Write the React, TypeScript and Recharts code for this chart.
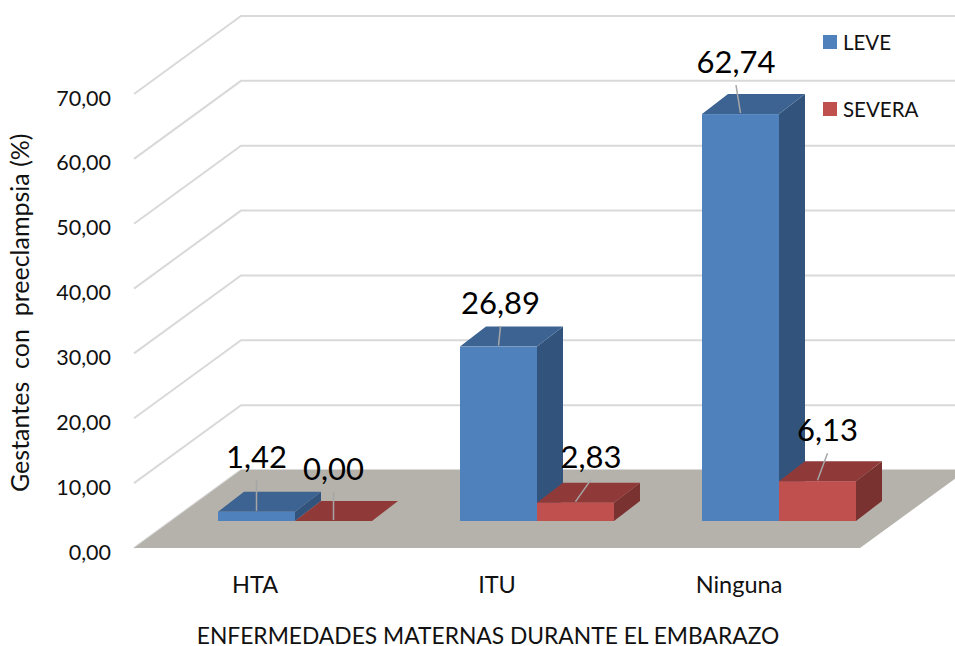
import { Bar, BarChart, CartesianGrid, LabelList, Legend, XAxis, YAxis } from "recharts"

const categories = ["HTA", "ITU", "Ninguna"]
const leveValues = [1.42, 26.89, 62.74]
const severaValues = [0.0, 2.83, 6.13]
const yTicks = [0, 10, 20, 30, 40, 50, 60, 70]

const data = categories.map((name, i) => ({ name, leve: leveValues[i], severa: severaValues[i] }))

const FONT = "Lato, sans-serif"
const TEXT = "#111"

// how far the wall runs back from the axis
const WALL_DX = 107
const WALL_DY = -78
// bars stand part way back on the floor
const BAR_DX = 40
const BAR_DY = -27
const DEPTH_DX = 26
const DEPTH_DY = -20

const PLOT_BOTTOM = 548
const RIGHT_EDGE = 955

const leveLabelOffsets = [[0, -56], [2, -44.5], [-4.5, -53]]
const severaLabelOffsets = [[0, -53], [15.5, -47], [10, -52]]
const LEADER_GAP = 24

const formatTick = (v: number) => v.toFixed(2).replace(".", ",")

function wallLine(props: any) {
  const { x1, x2, y1, key } = props
  const bx = x1 + WALL_DX
  const by = y1 + WALL_DY
  const isFloor = Math.round(y1) === PLOT_BOTTOM
  return (
    <g key={key}>
      <polyline points={`${x1},${y1} ${bx},${by} ${RIGHT_EDGE},${by}`} fill="none" stroke="#d9d9d9" strokeWidth={2} />
      {isFloor && (
        <polygon points={`${x1},${y1} ${x2},${y1} ${x2 + WALL_DX},${by} ${bx},${by}`} fill="#b5b2ab" />
      )}
    </g>
  )
}

function box3d(front: string, top: string, side: string) {
  return (props: any) => {
    const x = props.x + BAR_DX
    const y = props.y + BAR_DY
    const w = props.width
    const h = props.height
    return (
      <g>
        <polygon
          points={`${x + w},${y} ${x + w + DEPTH_DX},${y + DEPTH_DY} ${x + w + DEPTH_DX},${y + h + DEPTH_DY} ${x + w},${y + h}`}
          fill={side}
        />
        <polygon
          points={`${x},${y} ${x + DEPTH_DX},${y + DEPTH_DY} ${x + w + DEPTH_DX},${y + DEPTH_DY} ${x + w},${y}`}
          fill={top}
        />
        <rect x={x} y={y} width={w} height={h} fill={front} />
      </g>
    )
  }
}

function valueLabel(offsets: number[][]) {
  return (props: any) => {
    const { x, y, width, value, index } = props
    const cx = x + BAR_DX + width / 2
    const top = y + BAR_DY
    const [dx, dy] = offsets[index]
    return (
      <g>
        <line x1={cx + dx} y1={top + dy + LEADER_GAP} x2={cx} y2={top - 1} stroke="#a6a6a6" strokeWidth={1.5} />
        <text x={cx + dx} y={top + dy} textAnchor="middle" dominantBaseline="central" fontFamily={FONT} fontSize={31} fill="#000">
          {formatTick(Number(value))}
        </text>
      </g>
    )
  }
}

function legendContent(props: any) {
  return (
    <div style={{ fontFamily: FONT, fontSize: 20.5, color: TEXT }}>
      {props.payload.map((item: any) => (
        <div key={item.value} style={{ display: "flex", alignItems: "center", height: 67 }}>
          <span style={{ width: 14, height: 14, background: item.color, marginRight: 6 }} />
          {item.value}
        </div>
      ))}
    </div>
  )
}

export default function App() {
  return (
    <div style={{ position: "absolute", left: 0, top: 0, width: 955, height: 646, overflow: "hidden", background: "#fff" }}>
      <BarChart
        width={955}
        height={646}
        data={data}
        barSize={77}
        barGap={0}
        margin={{ top: 94, right: 95, bottom: 0, left: 0 }}
      >
        <CartesianGrid horizontal={wallLine} vertical={false} />
        <XAxis
          dataKey="name"
          height={98}
          axisLine={false}
          tickLine={false}
          tickSize={0}
          tickMargin={28}
          tick={{ fontFamily: FONT, fontSize: 23.5, fill: TEXT }}
          label={{
            value: "ENFERMEDADES MATERNAS DURANTE EL EMBARAZO",
            position: "insideBottom",
            offset: 0,
            dx: -9,
            dy: -2,
            style: { fontFamily: FONT, fontSize: 22.8, fill: TEXT },
          }}
        />
        <YAxis
          domain={[0, 70]}
          ticks={yTicks}
          width={134}
          axisLine={false}
          tickLine={false}
          tickSize={0}
          tickMargin={23}
          tickFormatter={formatTick}
          tick={{ fontFamily: FONT, fontSize: 21.5, fill: TEXT, dy: 4 }}
          label={{
            value: "Gestantes\u00A0\u00A0con\u00A0\u00A0preeclampsia\u00A0(%)",
            angle: -90,
            position: "insideLeft",
            offset: 0,
            dx: 20,
            dy: 171,
            style: { fontFamily: FONT, fontSize: 25, fill: TEXT },
          }}
        />
        <Legend
          layout="vertical"
          align="center"
          verticalAlign="middle"
          content={legendContent}
          wrapperStyle={{ left: 823, top: 8, width: 130 }}
        />
        <Bar dataKey="leve" name="LEVE" fill="#4f81bd" isAnimationActive={false} shape={box3d("#4f81bd", "#3c6391", "#32547c")}>
          <LabelList dataKey="leve" content={valueLabel(leveLabelOffsets)} />
        </Bar>
        <Bar dataKey="severa" name="SEVERA" fill="#c0504d" isAnimationActive={false} shape={box3d("#c0504d", "#8f3a38", "#7a3230")}>
          <LabelList dataKey="severa" content={valueLabel(severaLabelOffsets)} />
        </Bar>
      </BarChart>
    </div>
  )
}
